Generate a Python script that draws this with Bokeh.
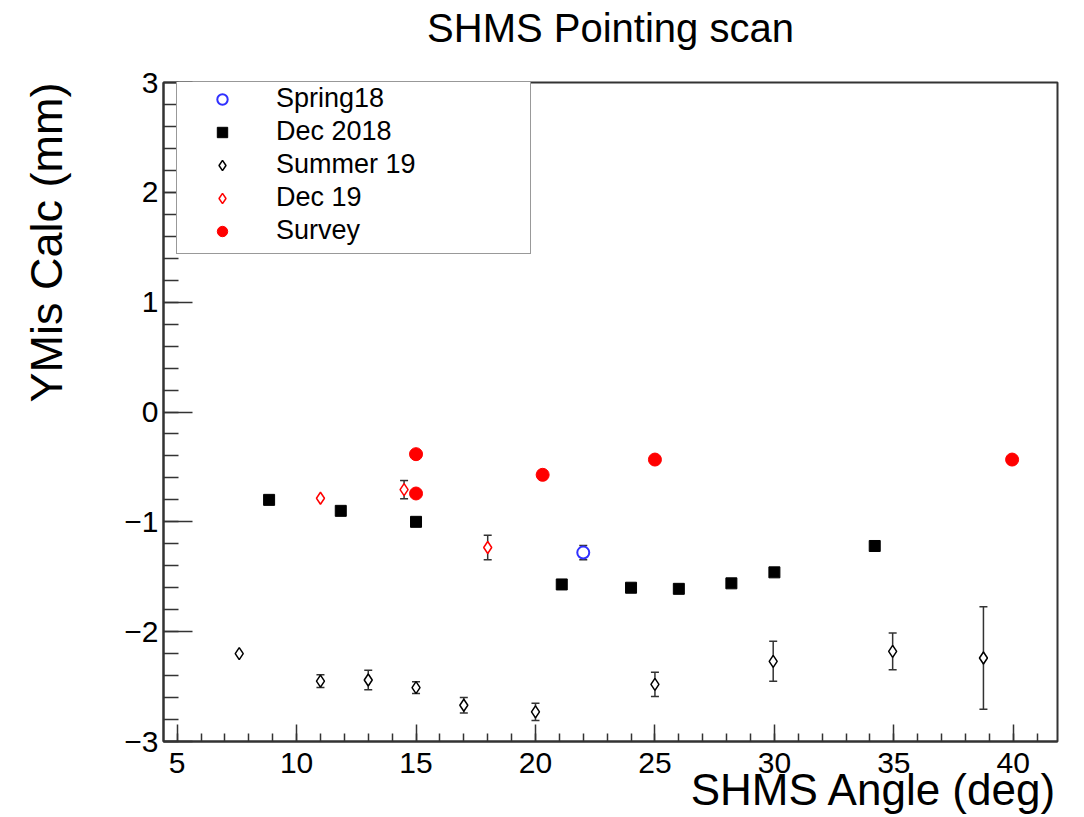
import numpy as np
from bokeh.plotting import figure
from bokeh.models import (ColumnDataSource, Whisker, TeeHead, Legend, Title,
                          LegendItem, FixedTicker, LinearAxis)
from bokeh.embed import file_html
from bokeh.resources import INLINE

# ---------------- data ----------------
spring18_x = [22.0]
spring18_y = [-1.28]
spring18_err = [0.065]

dec2018_x = [8.85, 11.85, 15.0, 21.1, 24.0, 26.0, 28.2, 30.0, 34.2]
dec2018_y = [-0.80, -0.90, -1.00, -1.57, -1.60, -1.61, -1.56, -1.46, -1.22]

summer19_x = [7.6, 11.0, 13.0, 15.0, 17.0, 20.0, 25.0, 29.95, 34.95, 38.75]
summer19_y = [-2.20, -2.45, -2.44, -2.51, -2.67, -2.73, -2.48, -2.27, -2.18, -2.24]
summer19_err = [0.0, 0.058, 0.088, 0.053, 0.07, 0.079, 0.11, 0.182, 0.167, 0.467]

dec19_x = [11.0, 14.5, 18.0]
dec19_y = [-0.785, -0.707, -1.234]
dec19_err = [0.0, 0.083, 0.112]

survey_x = [15.0, 15.0, 20.3, 25.0, 39.95]
survey_y = [-0.384, -0.742, -0.572, -0.433, -0.433]

x_ticks = [5, 10, 15, 20, 25, 30, 35, 40]
x_minor_ticks = list(range(5, 42))
y_ticks = [-3, -2, -1, 0, 1, 2, 3]
y_tick_labels = ["\u22123", "\u22122", "\u22121", "0", "1", "2", "3"]
y_minor_ticks = [round(v, 1) for v in np.arange(-3, 3.001, 0.2)]

title_text = "SHMS Pointing scan"
x_title = "SHMS Angle (deg)"
y_title = "YMis Calc (mm)"

FONT = "Liberation Sans"
AX = "#333333"

# ---------------- figure ----------------
p = figure(width=1084, height=817, x_range=(4.43, 41.85), y_range=(-3, 3),
           output_backend="svg", toolbar_location=None, title=None,
           min_border_left=163, min_border_right=27,
           min_border_top=82, min_border_bottom=76)
p.xgrid.visible = False
p.ygrid.visible = False
p.background_fill_color = "white"
p.border_fill_color = "white"
p.outline_line_color = AX
p.outline_line_width = 2

xa = p.xaxis[0]
ya = p.yaxis[0]
for ax in (xa, ya):
    ax.axis_line_color = AX
    ax.axis_line_width = 2
    ax.major_tick_line_color = AX
    ax.major_tick_line_width = 1.5
    ax.minor_tick_line_color = AX
    ax.minor_tick_line_width = 1.5
    ax.major_tick_out = 0
    ax.minor_tick_out = 0
    ax.major_label_text_font = FONT
    ax.major_label_text_font_size = "30px"
    ax.major_label_text_color = "black"

xa.ticker = FixedTicker(ticks=x_ticks, minor_ticks=x_minor_ticks)
ya.ticker = FixedTicker(ticks=y_ticks, minor_ticks=y_minor_ticks)
ya.major_label_overrides = dict(zip(y_ticks, y_tick_labels))
xa.major_tick_in = 17
xa.minor_tick_in = 8
ya.major_tick_in = 29
ya.minor_tick_in = 15
xa.major_label_standoff = 11
ya.major_label_standoff = 5


def blank_axis(extent, tick_at=()):
    """An undecorated axis (invisible tick, no line, no labels) that only takes up space."""
    tick_at = list(tick_at)
    return LinearAxis(ticker=FixedTicker(ticks=tick_at), axis_line_color=None,
                      major_tick_line_color="white", minor_tick_line_color=None,
                      major_tick_out=extent, minor_tick_out=0, major_tick_in=0,
                      minor_tick_in=0, major_label_standoff=0,
                      major_label_overrides={t: "" for t in tick_at},
                      major_label_text_color=None,
                      major_label_text_font_size="1px")


# title carried by an undecorated axis above the frame
top_axis = blank_axis(0)
top_axis.axis_label = title_text
top_axis.axis_label_standoff = 33
top_axis.axis_label_text_font = FONT
top_axis.axis_label_text_font_size = "40px"
top_axis.axis_label_text_font_style = "normal"
top_axis.axis_label_text_color = "black"
p.add_layout(top_axis, "above")

# x axis title: right aligned, tucked under the tick labels
x_title_obj = Title(text=x_title, align="right", vertical_align="bottom",
                    text_font=FONT, text_font_size="44px",
                    text_font_style="normal", text_color="black", standoff=0)
try:
    x_title_obj.standoff = -25
except Exception:
    pass
p.add_layout(x_title_obj, "below")

# y axis title: top aligned, left of a spacer
p.add_layout(blank_axis(50, tick_at=[y_ticks[0]]), "left")
p.add_layout(Title(text=y_title, align="right", vertical_align="bottom",
                   text_font=FONT, text_font_size="45px",
                   text_font_style="normal", text_color="black", standoff=0),
             "left")


def add_errors(xs, ys, errs):
    xs = np.asarray(xs, float); ys = np.asarray(ys, float); errs = np.asarray(errs, float)
    m = errs > 0
    src = ColumnDataSource(dict(x=xs[m], lower=(ys - errs)[m], upper=(ys + errs)[m]))
    w = Whisker(source=src, base="x", lower="lower", upper="upper", dimension="height",
                line_color=AX, line_width=1.5, level="underlay",
                upper_head=TeeHead(size=8, line_color=AX, line_width=1.5),
                lower_head=TeeHead(size=8, line_color=AX, line_width=1.5))
    p.add_layout(w)


add_errors(summer19_x, summer19_y, summer19_err)
add_errors(dec19_x, dec19_y, dec19_err)
add_errors(spring18_x, spring18_y, spring18_err)

r_survey = p.scatter(survey_x, survey_y, marker="circle", size=13,
                     fill_color="#ff0000", line_color="#ff0000")
r_dec2018 = p.scatter(dec2018_x, dec2018_y, marker="square", size=11,
                      fill_color="black", line_color="black")
r_summer = p.scatter(summer19_x, summer19_y, marker="diamond", size=12,
                     fill_color="white", line_color="black", line_width=1.5)
r_dec19 = p.scatter(dec19_x, dec19_y, marker="diamond", size=12,
                    fill_color="white", line_color="#ff0000", line_width=1.5)
r_spring = p.scatter(spring18_x, spring18_y, marker="circle", size=12,
                     fill_color="white", line_color="#3030ff", line_width=2)

legend = Legend(items=[LegendItem(label="Spring18", renderers=[r_spring]),
                       LegendItem(label="Dec 2018", renderers=[r_dec2018]),
                       LegendItem(label="Summer 19", renderers=[r_summer]),
                       LegendItem(label="Dec 19", renderers=[r_dec19]),
                       LegendItem(label="Survey", renderers=[r_survey])],
                location=(13, 487), orientation="vertical",
                label_text_font=FONT, label_text_font_size="27px",
                label_text_color="black",
                glyph_width=76, glyph_height=26, label_height=30,
                label_width=247, label_standoff=16, spacing=2, padding=7,
                margin=0, border_line_color=AX, border_line_width=1.5,
                background_fill_color="white", background_fill_alpha=1.0)
p.add_layout(legend)

open("out.html", "w").write(file_html(p, INLINE))
